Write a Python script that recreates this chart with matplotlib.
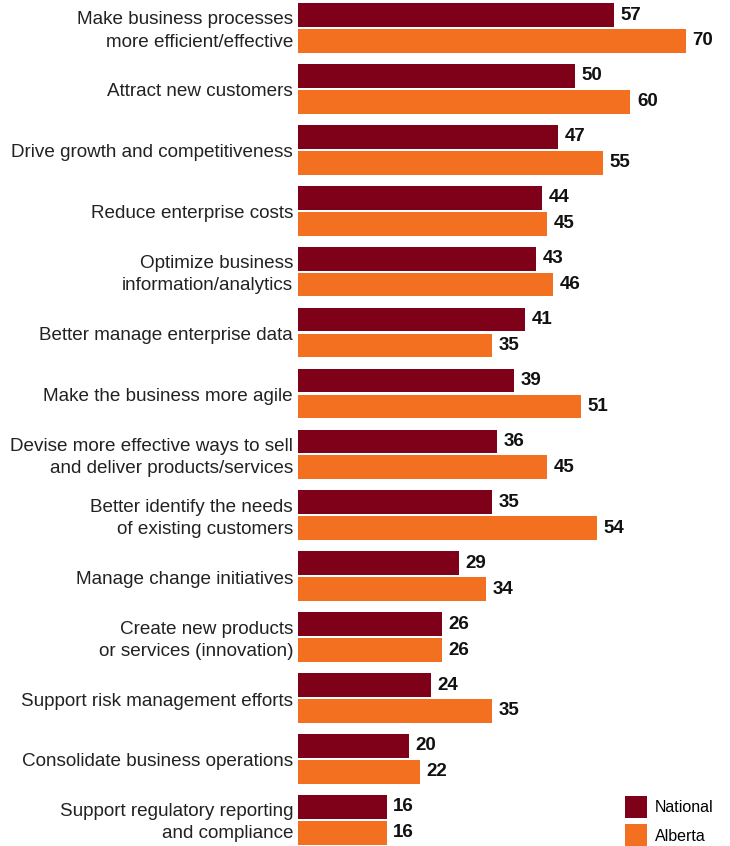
import matplotlib
matplotlib.use('Agg')
import matplotlib.pyplot as plt
from matplotlib.lines import Line2D
import numpy as np

categories = [
    "Make business processes\nmore efficient/effective",
    "Attract new customers",
    "Drive growth and competitiveness",
    "Reduce enterprise costs",
    "Optimize business\ninformation/analytics",
    "Better manage enterprise data",
    "Make the business more agile",
    "Devise more effective ways to sell\nand deliver products/services",
    "Better identify the needs\nof existing customers",
    "Manage change initiatives",
    "Create new products\nor services (innovation)",
    "Support risk management efforts",
    "Consolidate business operations",
    "Support regulatory reporting\nand compliance",
]
national = [57, 50, 47, 44, 43, 41, 39, 36, 35, 29, 26, 24, 20, 16]
alberta = [70, 60, 55, 45, 46, 35, 51, 45, 54, 34, 26, 35, 22, 16]
series = ['National', 'Alberta']

c_nat = '#7F0019'
c_alb = '#F37021'

plt.rcParams['font.family'] = ['Liberation Sans', 'DejaVu Sans']

fig = plt.figure(figsize=(7.3, 8.46), dpi=100)
ax = fig.add_axes([298 / 730, 0, 432 / 730, 1])

y = np.arange(len(categories))
off = 0.213
h = 0.39
ax.barh(y - off, national, height=h, color=c_nat)
ax.barh(y + off, alberta, height=h, color=c_alb)

for yi, v in zip(y, national):
    ax.text(v + 1.2, yi - off, str(v), va='center', ha='left',
            fontsize=13.5, fontweight='bold', color='#111111')
for yi, v in zip(y, alberta):
    ax.text(v + 1.2, yi + off, str(v), va='center', ha='left',
            fontsize=13.5, fontweight='bold', color='#111111')

for yi, lab in zip(y, categories):
    ax.text(-0.9, yi + 0.05, lab, va='center', ha='right', fontsize=13.6,
            color='#222222', linespacing=1.4)

ax.set_xlim(0, 432 / 5.54)
ax.set_ylim(13.43, -0.46)
ax.axis('off')

handles = [Line2D([], [], marker='s', markersize=16.5, linestyle='none',
                  markerfacecolor=c, markeredgewidth=0) for c in (c_nat, c_alb)]
ax.legend(handles, series, loc='lower left',
          bbox_to_anchor=((624 - 298) / 432, 2 / 846),
          frameon=False, fontsize=11.5, handlelength=1.45,
          handletextpad=0.5, labelspacing=0.85, borderaxespad=0,
          borderpad=0)

fig.savefig('out.png', dpi=100)
